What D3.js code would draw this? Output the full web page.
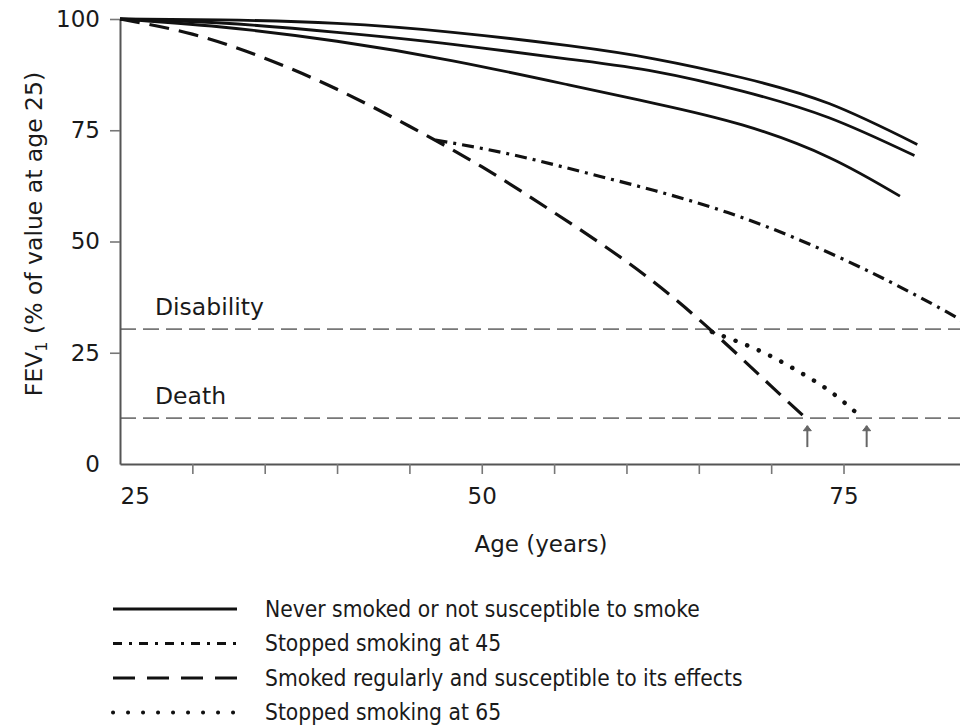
<!DOCTYPE html>
<html>
<head>
<meta charset="utf-8">
<script src="https://cdn.jsdelivr.net/npm/d3@7"></script>
<style>
  body { margin: 0; background: #fff; }
  text { font-family: "DejaVu Sans", sans-serif; fill: #1a1a1a; }
  .legend { font-family: "DejaVu Sans Condensed", "Liberation Sans Narrow", sans-serif; }
</style>
</head>
<body>
<svg width="960" height="725"></svg>
<script>
// never smoked or not susceptible (three solid lines)
var neverTopAges = [25, 32, 40, 48, 56, 62, 68, 74, 80.1];
var neverTop = [100, 99.8, 99.0, 97.0, 94.0, 91.0, 86.8, 81.0, 71.8];
var neverMidAges = [25, 32, 40, 48, 56, 62, 68, 74, 79.9];
var neverMid = [100, 99.1, 97.0, 94.3, 91.0, 88.2, 83.8, 77.8, 69.3];
var neverLowAges = [25, 32, 40, 48, 56, 62, 68, 74, 78.9];
var neverLow = [100, 98.2, 95.0, 90.6, 85.2, 81.0, 76.2, 68.9, 60.2];

// smoked regularly and susceptible
var smokerAges = [25, 30, 35, 40, 45, 50, 55, 60, 65, 70, 72.4];
var smoker = [100, 96.6, 91.2, 84.2, 75.9, 66.8, 56.5, 45.5, 32.5, 17.5, 10.3];

// stopped smoking at 45
var stop45Ages = [46.8, 52, 57, 62, 67, 72, 77, 81, 83.2];
var stop45 = [72.8, 69.6, 65.6, 61.4, 56.5, 50.3, 42.9, 36.2, 32.2];

// stopped smoking at 65
var stop65Ages = [65.9, 68, 70, 72, 74, 76];
var stop65 = [29.7, 27.1, 24.2, 20.6, 16.5, 11.2];

var thresholdNames = ["Disability", "Death"];
var thresholdValues = [30.3, 10.3];
var arrowAges = [72.5, 76.6];

var xTicks = [25, 30, 35, 40, 45, 50, 55, 60, 65, 70, 75];
var xLabels = [25, 50, 75];
var yTicks = [0, 25, 50, 75, 100];

var legendNames = [
  "Never smoked or not susceptible to smoke",
  "Stopped smoking at 45",
  "Smoked regularly and susceptible to its effects",
  "Stopped smoking at 65"
];

var svg = d3.select("svg");

var x = d3.scaleLinear().domain([25, 83.05]).range([120, 960]);
var y = d3.scaleLinear().domain([0, 100]).range([464, 19]);

function zip(a, v) { return a.map(function(d, i) { return [d, v[i]]; }); }

var line = d3.line()
  .x(function(d) { return x(d[0]); })
  .y(function(d) { return y(d[1]); })
  .curve(d3.curveNatural);

// threshold lines + labels
svg.selectAll(".thr")
  .data(thresholdValues)
  .enter().append("line")
  .attr("x1", x(25)).attr("x2", 960)
  .attr("y1", function(d) { return y(d); })
  .attr("y2", function(d) { return y(d); })
  .style("stroke", "#777")
  .style("stroke-width", 1.6)
  .style("stroke-dasharray", "16,7");

svg.selectAll(".thrlab")
  .data(thresholdNames)
  .enter().append("text")
  .attr("x", 155)
  .attr("y", function(d, i) { return y(thresholdValues[i]) - 14; })
  .style("font-size", "23.5px")
  .text(function(d) { return d; });

// axes
var yAxis = svg.append("g")
  .attr("transform", "translate(" + x(25) + ",0)")
  .call(d3.axisLeft(y).tickValues(yTicks).tickSize(10).tickSizeOuter(0).tickPadding(10));
yAxis.selectAll(".tick").filter(function(d) { return d === 0; }).select("line").remove();

var xAxis = svg.append("g")
  .attr("transform", "translate(0," + y(0) + ")")
  .call(d3.axisBottom(x).tickValues(xTicks).tickSize(10).tickSizeOuter(0).tickPadding(14)
    .tickFormat(function(d) { return xLabels.indexOf(d) >= 0 ? d : ""; }));
xAxis.selectAll(".tick").filter(function(d) { return d === 25; }).select("line").remove();
xAxis.selectAll(".tick").filter(function(d) { return d === 25; }).select("text")
  .attr("text-anchor", "start").attr("x", 0);

svg.selectAll(".domain").style("stroke", "#555").style("stroke-width", 2);
svg.selectAll(".tick line").style("stroke", "#777").style("stroke-width", 1.6);
svg.selectAll(".tick text").style("font-size", "23px").style("font-family", "DejaVu Sans").style("fill", "#1a1a1a");

// axis titles
svg.append("text")
  .attr("x", 541).attr("y", 552)
  .attr("text-anchor", "middle")
  .style("font-size", "23px")
  .text("Age (years)");

var yt = svg.append("text")
  .attr("transform", "translate(42,234) rotate(-90)")
  .attr("text-anchor", "middle")
  .style("font-size", "23.5px");
yt.append("tspan").text("FEV");
yt.append("tspan").attr("dy", 5).style("font-size", "16px").text("1");
yt.append("tspan").attr("dy", -5).text(" (% of value at age 25)");

// curves
var series = [
  { data: zip(neverTopAges, neverTop), dash: null, w: 2.8 },
  { data: zip(neverMidAges, neverMid), dash: null, w: 2.8 },
  { data: zip(neverLowAges, neverLow), dash: null, w: 2.8 },
  { data: zip(smokerAges, smoker), dash: "20,10", w: 3.2 },
  { data: zip(stop45Ages, stop45), dash: "12,6,3,6", w: 3.2 },
  { data: zip(stop65Ages, stop65), dash: "0.1,12.5", w: 4.5, cap: "round" }
];

svg.selectAll(".curve")
  .data(series)
  .enter().append("path")
  .attr("d", function(d) { return line(d.data); })
  .style("fill", "none")
  .style("stroke", "#111")
  .style("stroke-width", function(d) { return d.w; })
  .style("stroke-linecap", function(d) { return d.cap || "butt"; })
  .style("stroke-dasharray", function(d) { return d.dash; });

// arrows under the death line
var arrows = svg.selectAll(".arrow")
  .data(arrowAges)
  .enter().append("g")
  .attr("transform", function(d) { return "translate(" + x(d) + ",0)"; });
arrows.append("line")
  .attr("y1", y(3.8)).attr("y2", y(8.6))
  .style("stroke", "#666").style("stroke-width", 2);
arrows.append("path")
  .attr("d", "M-4," + (y(8.6) + 5) + "L0," + y(8.6) + "L4," + (y(8.6) + 5) + "Z")
  .style("fill", "#666").style("stroke", "#666").style("stroke-width", 1);

// legend
var legendDash = [null, "9,7,3,7", "22,12", "0.1,14.9"];
var legend = svg.selectAll(".leg")
  .data(legendNames)
  .enter().append("g")
  .attr("transform", function(d, i) { return "translate(0," + (609 + i * 34.5) + ")"; });

legend.append("line")
  .attr("x1", 113).attr("x2", 237)
  .style("stroke", "#111")
  .style("stroke-width", function(d, i) { return i === 3 ? 4 : 3; })
  .style("stroke-linecap", function(d, i) { return i === 3 ? "round" : "butt"; })
  .style("stroke-dasharray", function(d, i) { return legendDash[i]; });

legend.append("text")
  .attr("class", "legend")
  .attr("x", 265)
  .attr("dy", "0.35em")
  .style("font-size", "22.6px")
  .text(function(d) { return d; });
</script>
</body>
</html>
